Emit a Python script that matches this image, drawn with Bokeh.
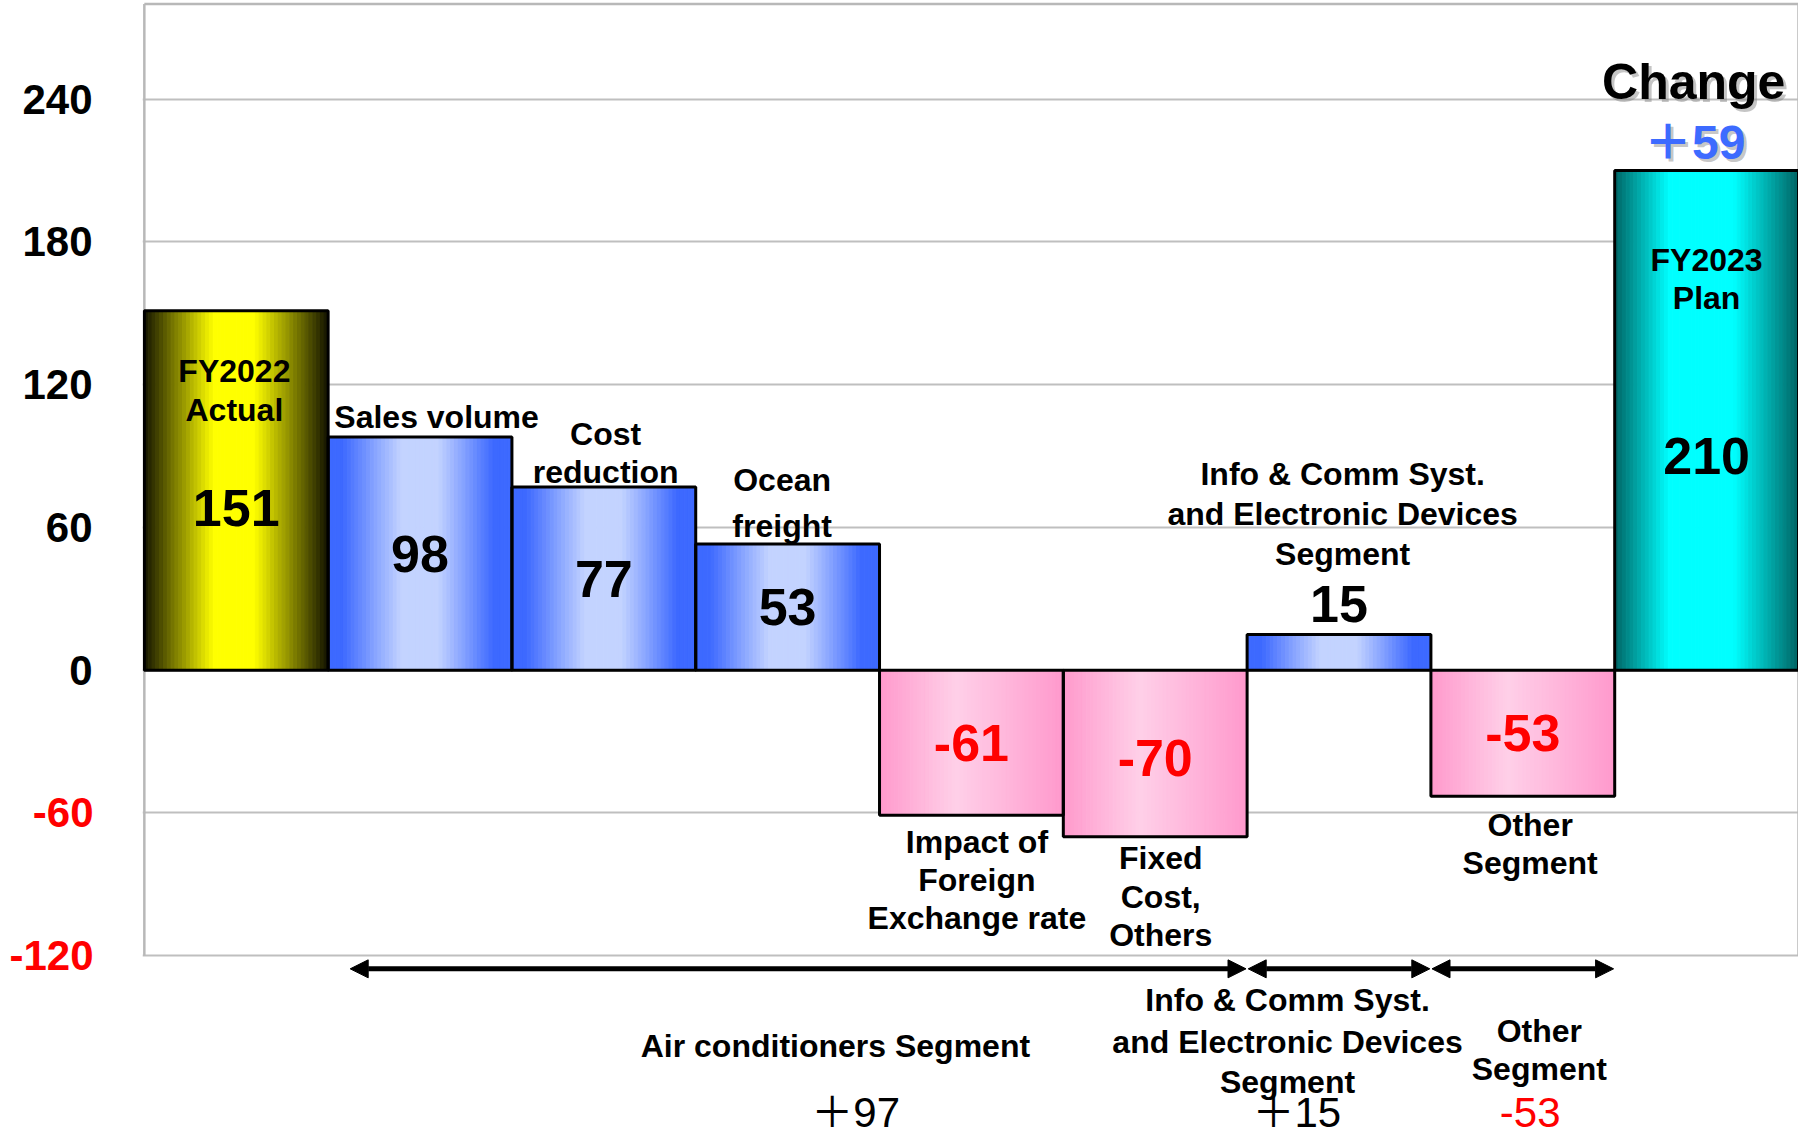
from bokeh.plotting import figure
from bokeh.models import ColumnDataSource, FixedTicker, LinearAxis, Arrow, NormalHead
from bokeh.core.properties import value
from bokeh.embed import file_html
from bokeh.resources import INLINE

# ---------------- data ----------------
categories = ["FY2022 Actual", "Sales volume", "Cost reduction", "Ocean freight",
              "Impact of Foreign Exchange rate", "Fixed Cost, Others",
              "Info & Comm Syst. and Electronic Devices Segment", "Other Segment",
              "FY2023 Plan"]
values = [151, 98, 77, 53, -61, -70, 15, -53, 210]
kinds = ["total", "delta", "delta", "delta", "delta", "delta", "delta", "delta", "total"]
category_lines = [["FY2022", "Actual"], ["Sales volume"], ["Cost", "reduction"],
                  ["Ocean", "freight"], ["Impact of", "Foreign", "Exchange rate"],
                  ["Fixed", "Cost,", "Others"],
                  ["Info & Comm Syst.", "and Electronic Devices", "Segment"],
                  ["Other", "Segment"], ["FY2023", "Plan"]]
segment_lines = [["Air conditioners Segment"],
                 ["Info & Comm Syst.", "and Electronic Devices", "Segment"],
                 ["Other", "Segment"]]
segment_first = [1, 6, 7]   # first bar index of each segment
segment_last = [5, 6, 7]    # last bar index of each segment
y_ticks = [-120, -60, 0, 60, 120, 180, 240]
y_top = 280

segment_values = [sum(values[a:b + 1]) for a, b in zip(segment_first, segment_last)]
change_value = values[-1] - values[0]


def signed(v):
    return ("＋%d" % v) if v > 0 else ("%d" % v)


# ---------------- layout / style ----------------
FONT = value("Liberation Sans, Noto Sans CJK JP")
BOLD = "bold"
n = len(values)
Y_LO = -196.8

cat_label_layout = [  # (x offset from bar left, y of each line)
    (0.49, [125.8, 109.4]),
    (0.59, [106.5]),
    (0.51, [99.3, 83.4]),
    (0.47, [80.0, 60.7]),
    (0.53, [-72.3, -88.2, -104.1]),
    (0.53, [-79.0, -95.4, -111.3]),
    (0.52, [82.4, 65.5, 48.7]),
    (0.54, [-65.0, -80.9]),
    (0.50, [172.5, 156.6]),
]
num_y = [v / 2 for v in values]
num_y[0] = 68
num_y[-1] = 90
num_y[5] = -37
num_y[6] = values[6] + 13

seg_label_layout = [  # (x center of lines, y of lines, x of value)
    (3.76, [-158.0], 3.87),
    (6.22, [-138.8, -156.1, -173.0], 6.27),
    (7.59, [-151.8, -167.7], 7.54),
]
seg_value_y = -186.0

schemes = {
    "yellow": [(0, "#141400"), (0.38, "#ffff00"), (0.6, "#ffff00"), (1, "#141400")],
    "cyan": [(0, "#006464"), (0.3, "#00ffff"), (0.65, "#00ffff"), (1, "#006464")],
    "blue": [(0, "#3d69ff"), (0.08, "#3d69ff"), (0.4, "#c3d3ff"), (0.6, "#c3d3ff"),
             (0.9, "#3d69ff"), (1, "#3d69ff")],
    "pink": [(0, "#ff99cc"), (0.42, "#ffd0e8"), (1, "#ff99cc")],
}


def h2r(h):
    return tuple(int(h[i:i + 2], 16) for i in (1, 3, 5))


def grad(stops, t):
    for (p0, c0), (p1, c1) in zip(stops[:-1], stops[1:]):
        if p0 <= t <= p1:
            f = 0 if p1 == p0 else (t - p0) / (p1 - p0)
            a, b = h2r(c0), h2r(c1)
            return "#%02x%02x%02x" % tuple(round(a[k] + (b[k] - a[k]) * f) for k in range(3))
    return stops[-1][1]


def scheme_for(i):
    if kinds[i] == "total":
        return "yellow" if i == 0 else "cyan"
    return "blue" if values[i] >= 0 else "pink"


# ---------------- figure ----------------
p = figure(width=1798, height=1138, x_range=(-0.01, n), y_range=(Y_LO, 281),
           output_backend="svg", toolbar_location=None, x_axis_location=None,
           min_border_left=142, min_border_right=0, min_border_top=1, min_border_bottom=0)
p.outline_line_color = None
p.background_fill_color = "white"
p.border_fill_color = "white"

p.ygrid.ticker = FixedTicker(ticks=y_ticks)
p.ygrid.grid_line_color = "#bfbfbf"
p.ygrid.grid_line_width = 2
p.xgrid.visible = False


def style_axis(ax, color, standoff):
    ax.axis_line_color = None
    ax.major_tick_line_color = None
    ax.minor_tick_line_color = None
    ax.major_tick_out = 0
    ax.major_tick_in = 0
    ax.major_label_standoff = standoff
    ax.major_label_text_font = "Liberation Sans"
    ax.major_label_text_font_style = "bold"
    ax.major_label_text_font_size = "42px"
    ax.major_label_text_color = color


# black axis for non-negative ticks (next to the frame)
pos_ticks = [t for t in y_ticks if t >= 0]
neg_ticks = [t for t in y_ticks if t < 0]
p.yaxis.ticker = FixedTicker(ticks=pos_ticks)
style_axis(p.yaxis[0], "black", 50)
# red axis for negative ticks, pulled back to right-align with the black labels
red_axis = LinearAxis(ticker=FixedTicker(ticks=neg_ticks),
                      major_label_overrides={t: "%d" % t for t in neg_ticks})
style_axis(red_axis, "#ff0000", -74)
p.add_layout(red_axis, "left")

# frame border lines (top, left, right)
p.multi_line(xs=[[0, n], [0, 0], [n, n]],
             ys=[[y_top, y_top], [y_ticks[0], y_top], [y_ticks[0], y_top]],
             line_color="#b8b8b8", line_width=2.5)

# gradient bars built from vertical strips
N = 48
sl, sr, sb, st, sc = [], [], [], [], []
for i, v in enumerate(values):
    stops = schemes[scheme_for(i)]
    for j in range(N):
        sl.append(i + j / N)
        sr.append(i + (j + 1) / N)
        sb.append(min(0, v))
        st.append(max(0, v))
        sc.append(grad(stops, (j + 0.5) / N))
p.quad(source=ColumnDataSource(dict(left=sl, right=sr, bottom=sb, top=st, color=sc)),
       left="left", right="right", bottom="bottom", top="top",
       fill_color="color", line_color="color", line_width=1)

bars = ColumnDataSource(dict(left=list(range(n)), right=[i + 1 for i in range(n)],
                             bottom=[min(0, v) for v in values],
                             top=[max(0, v) for v in values]))
p.quad(source=bars, left="left", right="right", bottom="bottom", top="top",
       fill_color=None, line_color="black", line_width=3)

# value labels
p.text(x=[i + 0.5 for i in range(n)], y=num_y, text=[str(v) for v in values],
       text_color=["#ff0000" if v < 0 else "black" for v in values],
       text_font=FONT, text_font_style=BOLD, text_font_size="52px",
       text_align="center", text_baseline="middle")

# category labels
lx, ly, lt = [], [], []
for i, lines in enumerate(category_lines):
    dx, ys = cat_label_layout[i]
    for line, yy in zip(lines, ys):
        lx.append(i + dx)
        ly.append(yy)
        lt.append(line)
p.text(x=lx, y=ly, text=lt, text_color="black", text_font=FONT, text_font_style=BOLD,
       text_font_size="32px", text_align="center", text_baseline="middle")

# Change header with shadow
cx = n - 1 + 0.43
for off, col, alpha in [(3, "#7f7f7f", 0.45), (0, None, 1.0)]:
    p.text(x=[cx], y=[247.2], text=["Change"], x_offset=off, y_offset=off,
           text_color=col or "black", text_alpha=alpha, text_font=FONT,
           text_font_style=BOLD, text_font_size="50px", text_align="center",
           text_baseline="middle")
    p.text(x=[cx + 0.005], y=[221.7], text=[signed(change_value)], x_offset=off, y_offset=off,
           text_color=col or "#3d6bff", text_alpha=alpha, text_font=FONT,
           text_font_style=BOLD, text_font_size="48px", text_align="center",
           text_baseline="middle")

# segment arrows
arrow_src = ColumnDataSource(dict(
    x0=[a + (0.12 if k == 0 else 0.006) for k, a in enumerate(segment_first)],
    x1=[b + 1 - 0.006 for b in segment_last],
    y0=[-125.5] * len(segment_first), y1=[-125.5] * len(segment_first)))
p.add_layout(Arrow(source=arrow_src, x_start="x0", y_start="y0", x_end="x1", y_end="y1",
                   line_color="black", line_width=5,
                   start=NormalHead(size=18, fill_color="black", line_color="black", line_width=1),
                   end=NormalHead(size=18, fill_color="black", line_color="black", line_width=1)))

# segment labels
bx, by, bt = [], [], []
vx, vy, vt, vc = [], [], [], []
for k, lines in enumerate(segment_lines):
    xc, ys, xv = seg_label_layout[k]
    for line, yy in zip(lines, ys):
        bx.append(xc)
        by.append(yy)
        bt.append(line)
    vx.append(xv)
    vy.append(seg_value_y)
    vt.append(signed(segment_values[k]))
    vc.append("#ff0000" if segment_values[k] < 0 else "black")
p.text(x=bx, y=by, text=bt, text_color="black", text_font=FONT, text_font_style=BOLD,
       text_font_size="32px", text_align="center", text_baseline="middle")
p.text(x=vx, y=vy, text=vt, text_color=vc, text_font=FONT,
       text_font_size="42px", text_align="center", text_baseline="middle")

open("out.html", "w").write(file_html(p, INLINE))
